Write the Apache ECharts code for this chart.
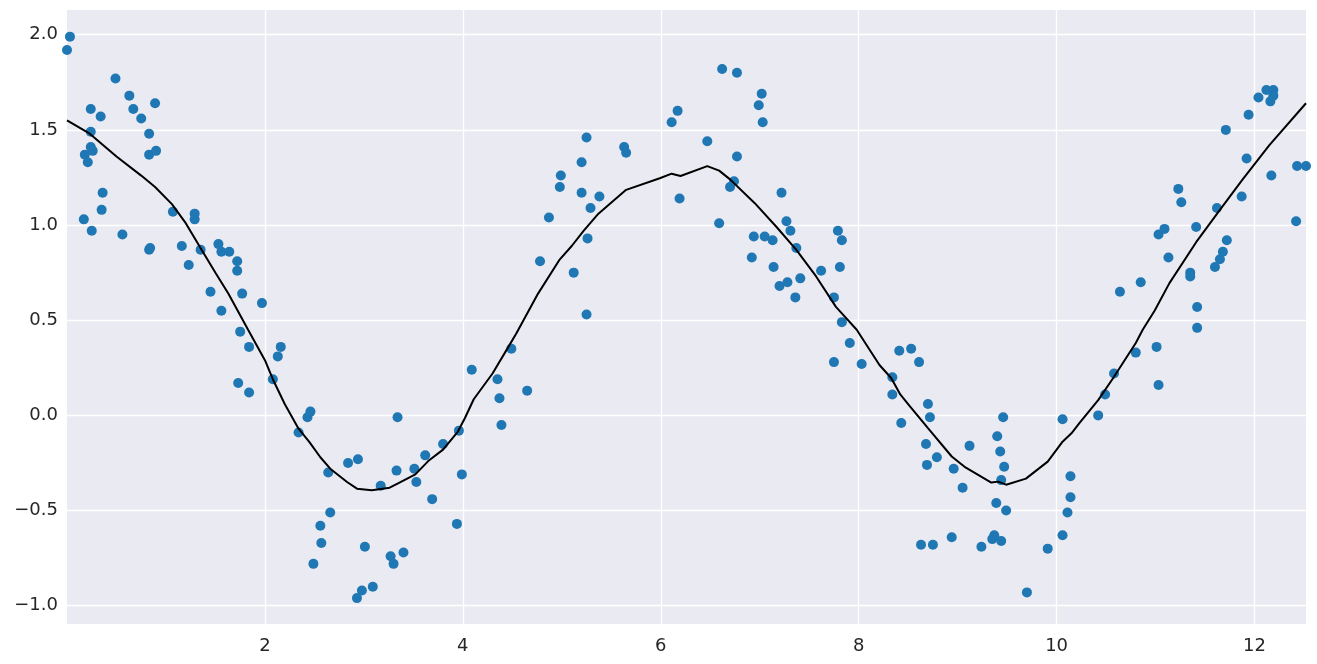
<!DOCTYPE html>
<html>
<head>
<meta charset="utf-8">
<script src="https://cdn.jsdelivr.net/npm/echarts@6/dist/echarts.min.js"></script>
<style>
html,body{margin:0;padding:0;background:#ffffff;}
#chart{width:1317px;height:664px;}
</style>
</head>
<body>
<div id="chart"></div>
<script>
// scatter observations [x, y]
const pointsX = [0.00,0.03,0.17,0.18,0.21,0.24,0.24,0.24,0.26,0.25,0.34,0.36,0.35,0.49,0.56,0.63,0.67,0.75,0.83,0.83,0.83,0.84,0.89,0.90,1.07,1.16,1.23,1.29,1.29,1.35,1.45,1.53,1.56,1.56,1.64,1.72,1.72,1.73,1.75,1.77,1.84,1.84,1.97,
2.08,2.13,2.16,2.34,2.43,2.46,2.49,2.56,2.57,2.64,2.66,2.84,2.93,2.94,2.98,3.01,3.09,3.17,3.27,3.30,3.33,3.34,3.40,3.51,3.53,3.62,3.69,3.80,3.94,3.96,3.99,
4.09,4.35,4.37,4.39,4.49,4.65,4.78,4.87,4.98,4.99,5.12,5.20,5.20,5.25,5.25,5.26,5.29,5.38,5.63,5.65,6.11,6.17,6.19,
6.47,6.59,6.62,6.70,6.74,6.77,6.77,6.92,6.94,6.99,7.02,7.03,7.05,7.13,7.14,7.20,7.22,7.27,7.28,7.31,7.36,7.37,7.41,7.62,7.75,7.75,7.79,7.81,7.83,7.83,7.91,8.03,
8.34,8.34,8.41,8.43,8.53,8.61,8.63,8.68,8.69,8.70,8.72,8.75,8.79,8.94,8.96,9.05,9.12,9.24,9.35,9.37,9.39,9.40,9.43,9.44,9.44,9.46,9.47,9.49,9.70,9.91,10.06,10.06,10.11,10.14,10.14,
10.42,10.49,10.58,10.64,10.80,10.85,11.01,11.03,11.03,11.09,11.13,11.23,11.26,11.35,11.35,11.41,11.42,11.42,11.60,11.62,11.65,11.68,11.71,11.72,11.87,11.92,11.94,12.04,12.12,12.16,12.17,12.19,12.19,12.42,12.43,12.52];
const pointsY = [1.92,1.99,1.03,1.37,1.33,1.61,1.49,1.41,1.39,0.97,1.57,1.17,1.08,1.77,0.95,1.68,1.61,1.56,1.48,1.37,0.87,0.88,1.64,1.39,1.07,0.89,0.79,1.03,1.06,0.87,0.65,0.90,0.86,0.55,0.86,0.81,0.76,0.17,0.44,0.64,0.12,0.36,0.59,
0.19,0.31,0.36,-0.09,-0.01,0.02,-0.78,-0.58,-0.67,-0.30,-0.51,-0.25,-0.96,-0.23,-0.92,-0.69,-0.90,-0.37,-0.74,-0.78,-0.29,-0.01,-0.72,-0.28,-0.35,-0.21,-0.44,-0.15,-0.57,-0.08,-0.31,
0.24,0.19,0.09,-0.05,0.35,0.13,0.81,1.04,1.20,1.26,0.75,1.17,1.33,1.46,0.53,0.93,1.09,1.15,1.41,1.38,1.54,1.60,1.14,
1.44,1.01,1.82,1.20,1.23,1.80,1.36,0.83,0.94,1.63,1.69,1.54,0.94,0.92,0.78,0.68,1.17,1.02,0.70,0.97,0.62,0.88,0.72,0.76,0.62,0.28,0.97,0.78,0.92,0.49,0.38,0.27,
0.20,0.11,0.34,-0.04,0.35,0.28,-0.68,-0.15,-0.26,0.06,-0.01,-0.68,-0.22,-0.64,-0.28,-0.38,-0.16,-0.69,-0.65,-0.63,-0.46,-0.11,-0.19,-0.34,-0.66,-0.01,-0.27,-0.50,-0.93,-0.70,-0.02,-0.63,-0.51,-0.32,-0.43,
0.00,0.11,0.22,0.65,0.33,0.70,0.36,0.16,0.95,0.98,0.83,1.19,1.12,0.75,0.73,0.99,0.57,0.46,0.78,1.09,0.82,0.86,1.50,0.92,1.15,1.35,1.58,1.67,1.71,1.65,1.26,1.71,1.68,1.02,1.31,1.31];

// smoothed trend line
const trendX = [0,0.23,0.5,0.75,0.89,1.06,1.2,1.36,1.5,1.63,1.83,2.0,2.08,2.2,2.34,2.45,2.56,2.66,2.83,2.93,3.08,3.26,3.35,3.52,3.65,3.80,3.95,4.02,4.11,4.3,4.46,4.54,4.76,4.98,5.1,5.22,5.37,5.65,5.99,6.11,6.2,6.47,6.59,6.70,6.95,7.17,7.37,7.57,7.77,7.98,8.21,8.33,8.42,8.52,8.70,8.94,9.07,9.34,9.41,9.49,9.69,9.91,10.06,10.15,10.23,10.42,10.57,10.80,10.87,10.99,11.14,11.41,11.65,11.88,12.15,12.52];
const trendY = [1.55,1.48,1.36,1.26,1.20,1.11,1.01,0.87,0.75,0.64,0.45,0.29,0.19,0.06,-0.07,-0.14,-0.22,-0.28,-0.35,-0.385,-0.393,-0.38,-0.356,-0.31,-0.24,-0.18,-0.085,-0.015,0.085,0.22,0.36,0.43,0.64,0.82,0.89,0.97,1.06,1.185,1.246,1.27,1.258,1.31,1.286,1.24,1.115,0.99,0.87,0.73,0.57,0.45,0.265,0.195,0.11,0.046,-0.067,-0.216,-0.27,-0.353,-0.348,-0.364,-0.332,-0.243,-0.138,-0.094,-0.041,0.08,0.195,0.38,0.45,0.55,0.695,0.91,1.08,1.24,1.42,1.64];

const xTickLabels = ['2','4','6','8','10','12'];
const yTickLabels = ['−1.0','−0.5','0.0','0.5','1.0','1.5','2.0'];

const scatterData = pointsX.map((x, i) => [x, pointsY[i]]);
const lineData = trendX.map((x, i) => [x, trendY[i]]);

const chart = echarts.init(document.getElementById('chart'), null, {renderer: 'canvas'});
const labelStyle = {color: '#262626', fontSize: 18, fontFamily: 'DejaVu Sans'};
chart.setOption({
  animation: false,
  backgroundColor: '#ffffff',
  grid: {left: 67, right: 11, top: 10, bottom: 40, show: true, backgroundColor: '#EAEAF2', borderWidth: 0},
  xAxis: {
    type: 'value', min: 0, max: 12.52, interval: 2,
    axisLine: {show: false}, axisTick: {show: false},
    splitLine: {show: true, showMinLine: false, showMaxLine: false, lineStyle: {color: '#ffffff', width: 1.3}},
    axisLabel: Object.assign({}, labelStyle, {margin: 13, showMinLabel: false, showMaxLabel: false,
      formatter: v => { const s = String(Math.round(v)); return xTickLabels.includes(s) ? s : ''; }})
  },
  yAxis: {
    type: 'value', min: -1.096, max: 2.13, minInterval: 0.5, maxInterval: 0.5,
    axisLine: {show: false}, axisTick: {show: false},
    splitLine: {show: true, showMinLine: false, showMaxLine: false, lineStyle: {color: '#ffffff', width: 1.3}},
    axisLabel: Object.assign({}, labelStyle, {margin: 9, padding: [3, 0, 0, 0], showMinLabel: false, showMaxLabel: false,
      formatter: v => { const s = (Math.round(v * 10) / 10).toFixed(1).replace('-', '−'); return yTickLabels.includes(s) ? s : ''; }})
  },
  series: [
    {type: 'scatter', data: scatterData, symbolSize: 10, itemStyle: {color: '#1f77b4', opacity: 1}, z: 2},
    {type: 'line', data: lineData, showSymbol: false, symbol: 'none', lineStyle: {color: '#000000', width: 2}, z: 3}
  ]
});
</script>
</body>
</html>
